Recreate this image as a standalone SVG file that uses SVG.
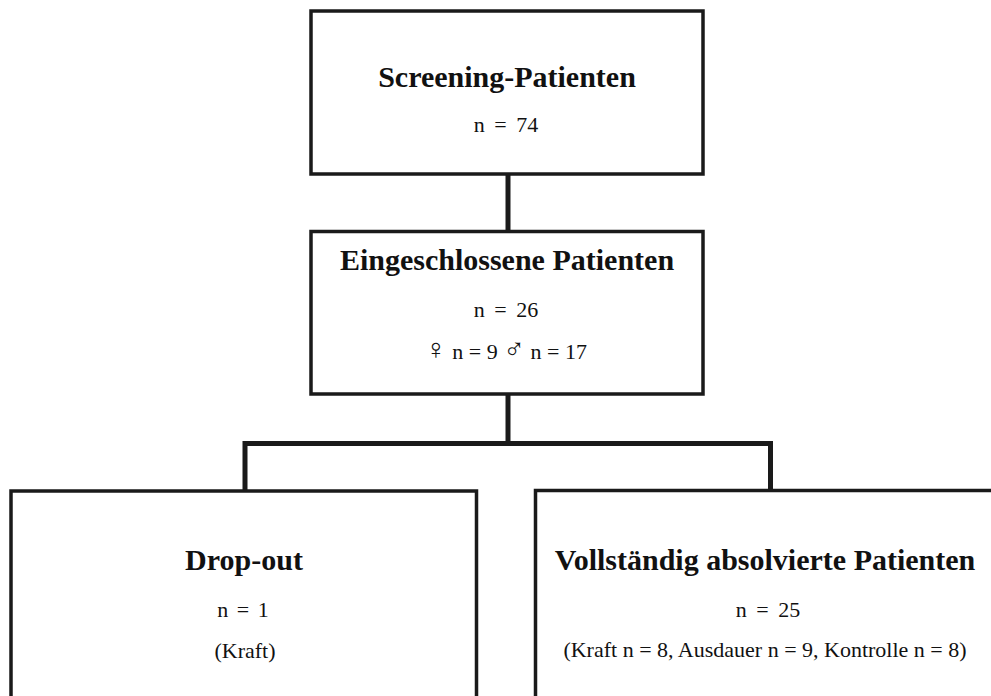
<svg xmlns="http://www.w3.org/2000/svg" width="991" height="696" viewBox="0 0 991 696">
<style>
.box{fill:#fff;stroke:#1a1a1a;stroke-width:3.5}
.con{fill:none;stroke:#1a1a1a;stroke-width:5;stroke-linecap:square;stroke-linejoin:miter}
.t{font-family:"Liberation Serif","Times New Roman",serif;font-weight:bold;font-size:30px;fill:#111;text-anchor:middle}
.s{font-family:"Liberation Serif","Times New Roman","DejaVu Serif",serif;font-size:22px;fill:#111;text-anchor:middle}
.g{font-family:"DejaVu Sans",sans-serif;font-size:29px;font-weight:200}
</style>
<rect width="991" height="696" fill="#fff"/>
<g id="connectors">
<path class="con" d="M508 174 V231"/>
<path class="con" d="M508 394 V443.5"/>
<path class="con" d="M245 491 V443.5 H770.5 V491"/>
</g>
<g id="screening">
<rect class="box" x="311" y="11" width="392" height="163"/>
<text class="t" x="507" y="87">Screening-Patienten</text>
<text class="s" x="506" y="132" word-spacing="4">n = 74</text>
</g>
<g id="eingeschlossen">
<rect class="box" x="311" y="231.5" width="392" height="162.5"/>
<text class="t" x="507" y="270">Eingeschlossene Patienten</text>
<text class="s" x="506" y="317" word-spacing="4">n = 26</text>
<text class="s" x="506" y="359"><tspan class="g">♀</tspan> n = 9 <tspan class="g">♂</tspan> n = 17</text>
</g>
<g id="dropout">
<rect class="box" x="11" y="491" width="465.5" height="220"/>
<text class="t" x="244" y="570">Drop-out</text>
<text class="s" x="243" y="617" word-spacing="3">n = 1</text>
<text class="s" x="245" y="658">(Kraft)</text>
</g>
<g id="vollstaendig">
<rect class="box" x="535.5" y="490.5" width="470" height="220"/>
<text class="t" x="765" y="570" font-size="29">Vollständig absolvierte Patienten</text>
<text class="s" x="768" y="617" word-spacing="4">n = 25</text>
<text class="s" x="765" y="657">(Kraft n = 8, Ausdauer n = 9, Kontrolle n = 8)</text>
</g>
</svg>
